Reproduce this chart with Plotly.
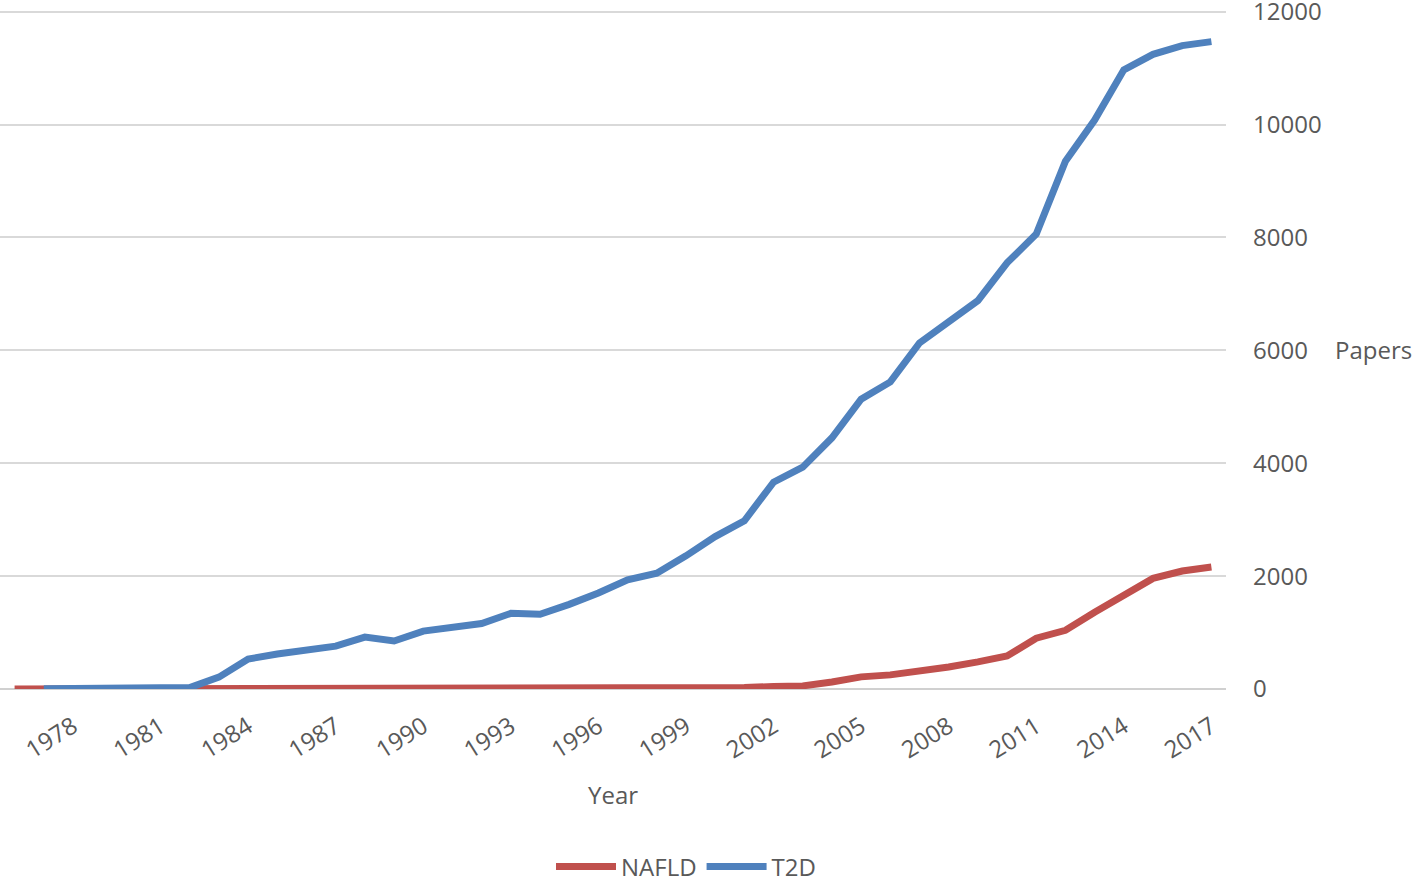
# Papers per year: NAFLD vs T2D
import plotly.graph_objs as go

years = list(range(1976, 2018))

nafld = [
    0, 0, 0, 0, 0, 0, 0, 0, 5, 10,
    15, 10, 5, 5, 10, 10, 10, 10, 10, 10,
    5, 5, 5, 10, 10, 25, 45, 55, 125, 215,
    250, 305, 390, 480, 585, 900, 1040, 1360, 1660, 1960,
    2090, 2160
]

t2d_years = list(range(1977, 2018))
t2d = [
    5, 5, 5, 5, 10, 25, 210, 530, 620, 690,
    760, 920, 850, 1025, 1080, 1160, 1340, 1325, 1500, 1700,
    1935, 2050, 2360, 2700, 2980, 3665, 3930, 4450, 5135, 5440,
    6130, 6510, 6880, 7550, 8060, 9350, 10080, 10970, 11245, 11400,
    11470
]

tick_years = list(range(1978, 2018, 3))
y_ticks = [0, 2000, 4000, 6000, 8000, 10000, 12000]

text_color = "#595959"
font_family = "Open Sans"

nafld_line = go.Scatter(
    x=years,
    y=nafld,
    mode="lines",
    name="NAFLD",
    line=dict(color="#C0504D", width=7)
)

t2d_line = go.Scatter(
    x=t2d_years,
    y=t2d,
    mode="lines",
    name="T2D",
    line=dict(color="#4F81BD", width=7)
)

layout = go.Layout(
    width=1418,
    height=884,
    autosize=False,
    paper_bgcolor="white",
    plot_bgcolor="white",
    margin=dict(l=0, r=192, t=10, b=195, autoexpand=False),
    font=dict(family=font_family, color=text_color, size=23),
    xaxis=dict(
        range=[1975.5, 2017.5],
        tickvals=tick_years,
        ticktext=[str(y) for y in tick_years],
        tickangle=-32,
        showgrid=False,
        zeroline=False,
        showline=False,
        ticks="",
        ticklabelstandoff=18,
        tickfont=dict(size=24, color=text_color),
    ),
    yaxis=dict(
        side="right",
        range=[0, 12030],
        tickvals=y_ticks,
        ticktext=[str(v) for v in y_ticks],
        ticklabeloverflow="allow",
        showgrid=True,
        gridcolor="#d9d9d9",
        gridwidth=1.5,
        zeroline=True,
        zerolinecolor="#d0d0d0",
        zerolinewidth=2,
        showline=False,
        ticks="",
        ticklabelstandoff=26,
        tickfont=dict(size=24, color=text_color),
    ),
    showlegend=True,
    legend=dict(
        orientation="h",
        x=686 / 1418,
        xanchor="center",
        xref="container",
        y=17 / 884,
        yanchor="middle",
        yref="container",
        font=dict(size=24, color=text_color),
        itemwidth=60,
    ),
    annotations=[
        dict(
            text="Papers",
            xref="paper",
            yref="paper",
            x=1.087,
            y=0.4993,
            xanchor="left",
            yanchor="middle",
            showarrow=False,
            font=dict(size=24, color=text_color),
        ),
        dict(
            text="Year",
            xref="paper",
            yref="paper",
            x=0.5,
            y=-0.156,
            xanchor="center",
            yanchor="middle",
            showarrow=False,
            font=dict(size=24, color=text_color),
        ),
    ],
)

fig = go.Figure(data=[nafld_line, t2d_line], layout=layout)
fig.write_html(
    "out.html",
    config={"displayModeBar": False},
    post_script="document.body.style.margin = '0';",
)
